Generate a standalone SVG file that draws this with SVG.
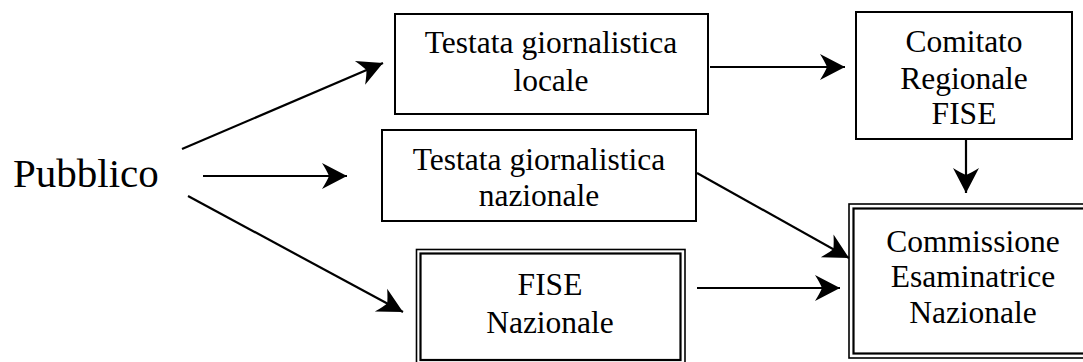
<svg xmlns="http://www.w3.org/2000/svg" width="1083" height="362" viewBox="0 0 1083 362">
<style>
  .box{fill:#fff;stroke:#000;stroke-width:2}
  .outer{fill:#fff;stroke:#000;stroke-width:1.6}
  .inner{fill:none;stroke:#000;stroke-width:2.2}
  .t{font-size:31.5px;fill:#000;text-anchor:middle}
  .big{font-size:41px;fill:#000}
  .c{stroke:#000;stroke-width:2.2;fill:none;marker-end:url(#ah)}
</style>
<defs>
  <marker id="ah" markerUnits="userSpaceOnUse" markerWidth="40" markerHeight="40" viewBox="-30 -20 40 40" refX="0" refY="0" orient="auto">
    <path d="M0,0 L-25,-13 Q-20,-5 -18,0 Q-20,5 -25,13 Z" fill="#000"/>
  </marker>
</defs>
<g font-family="'Liberation Serif', Tinos, 'Times New Roman', 'DejaVu Serif', serif">
<g id="pubblico"><text class="big" x="13" y="187">Pubblico</text></g>
<g id="testata-locale">
  <rect class="box" x="395" y="14" width="313" height="100"/>
  <text class="t" x="551" y="53">Testata giornalistica</text>
  <text class="t" x="551" y="91">locale</text>
</g>
<g id="testata-nazionale">
  <rect class="box" x="382" y="130" width="314" height="91"/>
  <text class="t" x="539" y="170">Testata giornalistica</text>
  <text class="t" x="539" y="206">nazionale</text>
</g>
<g id="fise-nazionale">
  <rect class="outer" x="416.5" y="249.5" width="268.5" height="120"/>
  <rect class="inner" x="420.5" y="253.5" width="260" height="106.5"/>
  <text class="t" x="550" y="295">FISE</text>
  <text class="t" x="550" y="333">Nazionale</text>
</g>
<g id="comitato-regionale">
  <rect class="box" x="856" y="12" width="216" height="127"/>
  <text class="t" x="964" y="52">Comitato</text>
  <text class="t" x="964" y="89">Regionale</text>
  <text class="t" x="964" y="124">FISE</text>
</g>
<g id="commissione">
  <rect class="outer" x="849" y="204" width="260" height="154"/>
  <rect class="inner" x="853.5" y="208.5" width="250" height="145"/>
  <text class="t" x="973" y="252">Commissione</text>
  <text class="t" x="973" y="287">Esaminatrice</text>
  <text class="t" x="973" y="323">Nazionale</text>
</g>
</g>
<g id="connectors">
  <line class="c" x1="182" y1="149" x2="383" y2="63"/>
  <line class="c" x1="203" y1="176" x2="347" y2="176"/>
  <line class="c" x1="188" y1="196" x2="403" y2="312"/>
  <line class="c" x1="710" y1="67" x2="845" y2="67"/>
  <line class="c" x1="966" y1="139" x2="966" y2="193"/>
  <line class="c" x1="697" y1="173" x2="849" y2="258"/>
  <line class="c" x1="697" y1="288" x2="840" y2="288"/>
</g>
</svg>
